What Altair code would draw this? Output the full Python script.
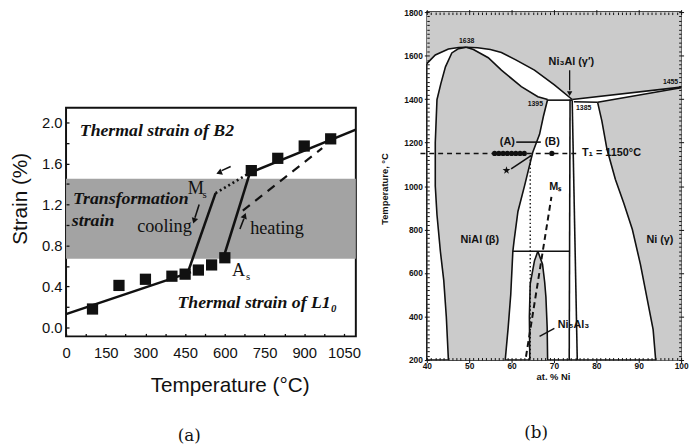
import altair as alt
import pandas as pd

# ================= (a) thermal strain across the B2 <-> L1_0 transformation =================
temp_c = [100, 200, 300, 400, 450, 500, 550, 600, 700, 800, 900, 1000]
strain_pct = [0.18, 0.41, 0.47, 0.50, 0.52, 0.56, 0.61, 0.68, 1.53, 1.65, 1.77, 1.84]

band_strain = [0.67, 1.45]  # transformation-strain band

# solid fits: L1_0 expansion, cooling jump, heating jump, B2 expansion
fit_id = ["L10", "L10", "cool", "cool", "heat", "heat", "B2", "B2"]
fit_temp = [0, 472, 462, 565, 596, 695, 695, 1095]
fit_strain = [0.13, 0.54, 0.55, 1.31, 0.69, 1.51, 1.51, 1.93]

ms_link_temp = [565, 695]        # dotted Ms link
ms_link_strain = [1.31, 1.51]
b2_ext_temp = [668, 968]         # dashed B2 extrapolation
b2_ext_strain = [1.14, 1.75]

arrow_id = ["cool", "cool", "heat", "heat", "back", "back"]
arrow_temp = [503, 487, 657, 672, 622, 588]
arrow_strain = [1.20, 1.07, 0.96, 1.06, 1.57, 1.53]
head_temp = [484, 675, 578]
head_strain = [1.04, 1.09, 1.51]
head_angle = [197, 21, 248]

bold_notes = ["Thermal strain of B2", "Transformation", "strain", "Thermal strain of L1₀"]
bold_temp = [52, 26, 22, 421]
bold_strain = [1.913, 1.25, 1.038, 0.24]
plain_notes = ["cooling", "heating", "M", "A"]
plain_temp = [372, 797, 490, 652]
plain_strain = [0.99, 0.97, 1.36, 0.557]
sub_notes = ["s", "s"]
sub_temp = [524, 688]
sub_strain = [1.29, 0.49]

a_ticks_x = [0, 75, 150, 225, 300, 375, 450, 525, 600, 675, 750, 825, 900, 975, 1050]
a_ticks_y = [0.0, 0.2, 0.4, 0.6, 0.8, 1.0, 1.2, 1.4, 1.6, 1.8, 2.0]

# ================= (b) Ni-Al phase diagram =================
liquid_region = [(40, 1800), (40, 1563), (42, 1603), (45.1, 1630), (47.5, 1637), (49.3, 1638),
                 (52, 1636), (55, 1628), (57.6, 1614), (61, 1580), (65.4, 1533), (70.1, 1465),
                 (74.3, 1398), (100, 1455), (100, 1800)]
beta_region = [(45.1, 200), (44.6, 400), (44.0, 566), (43.2, 700), (42.4, 868), (42.0, 1000),
               (42.0, 1200), (42.4, 1397), (43.3, 1470), (44.4, 1548), (45.9, 1612), (47.5, 1632),
               (49.3, 1638), (51, 1628), (54.5, 1590), (57.6, 1533), (62.3, 1457), (66.2, 1411),
               (68.5, 1398), (67.5, 1320), (66.6, 1238), (65, 1155), (63.1, 1004), (61.5, 883),
               (60.6, 750), (60.3, 700), (59.8, 500), (59.2, 350), (58.5, 200)]
ni5al3_region = [(64.3, 200), (64.2, 400), (64.4, 550), (65.4, 656), (66.2, 700), (67.3, 641),
                 (67.8, 560), (68.1, 490), (68.4, 350), (68.5, 200)]
gamma_region = [(80.3, 1385), (100, 1452), (100, 200), (94, 200), (93.4, 340), (92, 480),
                (90.4, 640), (88.5, 800), (86.5, 920), (84.5, 1030), (82.5, 1170), (81.3, 1300)]

phase_lines = {
    "liq_left": [(40, 1563), (42, 1603), (45.1, 1630), (47.5, 1637), (49.3, 1638)],
    "beta_left": [(49.3, 1638), (47.5, 1632), (45.9, 1612), (44.4, 1548), (43.3, 1470), (42.4, 1397),
                  (42.0, 1200), (42.0, 1000), (42.4, 868), (43.2, 700), (44.0, 566), (44.6, 400), (45.1, 200)],
    "liq_right": [(49.3, 1638), (52, 1636), (55, 1628), (57.6, 1614), (61, 1580), (65.4, 1533),
                  (70.1, 1465), (74.3, 1398)],
    "sol_beta": [(49.3, 1638), (51, 1628), (54.5, 1590), (57.6, 1533), (62.3, 1457), (66.2, 1411), (68.5, 1398)],
    "peritectic": [(68.5, 1395), (74.3, 1395)],
    "beta_right": [(68.5, 1398), (67.5, 1320), (66.6, 1238), (65, 1155), (63.1, 1004), (61.5, 883),
                   (60.6, 750), (60.3, 700), (59.8, 500), (59.2, 350), (58.5, 200)],
    "iso_700": [(60.3, 700), (73.6, 700)],
    "ni3al_left": [(73.8, 1398), (73.6, 200)],
    "ni3al_right": [(74.3, 1395), (75.5, 200)],
    "liq_ni": [(74.3, 1398), (100, 1455)],
    "eutectic": [(74.7, 1388), (80.3, 1385)],
    "sol_gamma": [(80.3, 1385), (100, 1452)],
    "solvus_gamma": [(80.3, 1385), (81.3, 1300), (82.5, 1170), (84.5, 1030), (86.5, 920), (88.5, 800),
                     (90.4, 640), (92, 480), (93.4, 340), (94, 200)],
    "ni5_left": [(64.3, 200), (64.2, 400), (64.4, 550), (65.4, 656), (66.2, 700)],
    "ni5_right": [(66.2, 700), (67.3, 641), (67.8, 560), (68.1, 490), (68.4, 350), (68.5, 200)],
}

t1_line = [(38.5, 1150), (75.5, 1150)]
alloy_ni = [56, 57, 58, 59, 60, 61, 62, 63, 69.5]
alloy_t = [1150] * 9
ab_link = [(61.1, 1202), (66.9, 1202)]
star_pt = [(58.8, 1072)]
star_link = [(59.9, 1079), (64.6, 1140)]
alloy_a_drop = [(64.4, 1140), (64.4, 200)]
ms_line = [(69.4, 950), (63.4, 215)]
ni3al_arrow = [(73.7, 1533), (73.7, 1440)]
ni3al_head = [(73.7, 1425)]
ni5al3_leader = [(66.6, 309), (70.1, 346)]

b_labels = ["Ni₃Al (γ′)", "(A)", "(B)", "Mₛ", "NiAl (β)", "Ni (γ)", "Ni₅Al₃"]
b_label_ni = [74.1, 59, 69.6, 70.3, 52.5, 95, 74.6]
b_label_t = [1568, 1202, 1202, 995, 750, 750, 362]
t1_label = "T₁ = 1150°C"
t1_label_pos = (76.6, 1150)
invariant_labels = ["1638", "1395", "1385", "1455"]
invariant_ni = [49.4, 65.6, 77.0, 97.5]
invariant_t = [1668, 1378, 1357, 1478]

b_ticks_x = list(range(40, 101))
b_ticks_y = list(range(200, 1801, 20))

SANS = "Liberation Sans"
SERIF = "Liberation Serif"
INK = "#111111"

# ---------------- panel (a) ----------------
ax_a_x = alt.Axis(values=a_ticks_x, format="d",
                  labelExpr="datum.value % 150 === 0 ? datum.label : ''",
                  labelOverlap=False, labelFlush=False, labelFont=SANS, labelFontSize=15,
                  labelColor=INK, labelPadding=9, tickSize=3, tickWidth=1.3, tickColor=INK,
                  offset=-3, domain=False, grid=False, zindex=1,
                  title="Temperature (°C)", titleFont=SANS, titleFontSize=21,
                  titleFontWeight="normal", titleColor=INK, titleX=166, titleY=53,
                  titleAlign="center", titleBaseline="middle")
ax_a_y = alt.Axis(values=a_ticks_y, format=".1f",
                  labelExpr="indexof(['0.0','0.4','0.8','1.2','1.6','2.0'], datum.label) >= 0 ? datum.label : ''",
                  labelOverlap=False, labelFlush=False, labelFont=SANS, labelFontSize=15,
                  labelColor=INK, labelPadding=4, tickSize=3, tickWidth=1.3, tickColor=INK,
                  offset=-3, domain=False, grid=False, zindex=1,
                  title="Strain (%)", titleFont=SANS, titleFontSize=21, titleFontWeight="normal",
                  titleColor=INK, titleAngle=270, titleX=-49, titleY=92,
                  titleAlign="center", titleBaseline="middle")

xa = alt.X("T:Q", scale=alt.Scale(domain=[0, 1095], nice=False, zero=False), axis=ax_a_x)
ya = alt.Y("s:Q", scale=alt.Scale(domain=[-0.087, 2.144], nice=False, zero=False), axis=ax_a_y)


def frame_ts(ts, ss, **extra):
    d = {"T": ts, "s": ss}
    d.update(extra)
    return pd.DataFrame(d)


band = alt.Chart(pd.DataFrame({"s": [band_strain[0]], "s2": [band_strain[1]]})).mark_rect(
    color="#a3a3a3").encode(y=ya, y2="s2:Q")

fits = alt.Chart(frame_ts(fit_temp, fit_strain, seg=fit_id)).mark_line(
    color=INK, strokeWidth=2.6).encode(x=xa, y=ya, detail="seg:N")
ms_link = alt.Chart(frame_ts(ms_link_temp, ms_link_strain)).mark_line(
    color=INK, strokeWidth=2.6, strokeDash=[2, 3]).encode(x=xa, y=ya)
b2_ext = alt.Chart(frame_ts(b2_ext_temp, b2_ext_strain)).mark_line(
    color=INK, strokeWidth=2.2, strokeDash=[9, 7]).encode(x=xa, y=ya)
arrows = alt.Chart(frame_ts(arrow_temp, arrow_strain, seg=arrow_id)).mark_line(
    color=INK, strokeWidth=1.6).encode(x=xa, y=ya, detail="seg:N")
heads = alt.Chart(frame_ts(head_temp, head_strain, a=head_angle)).mark_point(
    shape="triangle-up", filled=True, color=INK, size=45, opacity=1).encode(
    x=xa, y=ya, angle=alt.Angle("a:Q", scale=None))
squares = alt.Chart(frame_ts(temp_c, strain_pct)).mark_square(
    color=INK, size=130, opacity=1).encode(x=xa, y=ya)

bold_txt = alt.Chart(frame_ts(bold_temp, bold_strain, t=bold_notes)).mark_text(
    font=SERIF, fontSize=18, fontWeight="bold", fontStyle="italic", align="left",
    baseline="middle", color=INK).encode(x=xa, y=ya, text="t:N")
plain_txt = alt.Chart(frame_ts(plain_temp, plain_strain, t=plain_notes)).mark_text(
    font=SERIF, fontSize=18.5, align="center", baseline="middle", color=INK).encode(
    x=xa, y=ya, text="t:N")
sub_txt = alt.Chart(frame_ts(sub_temp, sub_strain, t=sub_notes)).mark_text(
    font=SERIF, fontSize=11, align="center", baseline="middle", color=INK).encode(
    x=xa, y=ya, text="t:N")

panel_a = alt.layer(band, fits, ms_link, b2_ext, arrows, heads, squares,
                    bold_txt, plain_txt, sub_txt).properties(
    width=294, height=232,
    view=alt.ViewBackground(stroke=INK, strokeWidth=2),
    title=alt.TitleParams("(a)", orient="bottom", frame="group", anchor="middle", dx=-22,
                          offset=33, font="DejaVu Serif", fontSize=17,
                          fontWeight="normal", color=INK))

spacer = alt.Chart(pd.DataFrame({"v": [0]})).mark_point(opacity=0, size=1).encode(
    x=alt.X("v:Q", axis=None, scale=alt.Scale(domain=[-1, 1])),
    y=alt.Y("v:Q", axis=None, scale=alt.Scale(domain=[-1, 1]))).properties(
    width=294, height=96, view=alt.ViewBackground(stroke=None))

# ---------------- panel (b) ----------------
def bx_axis(orient, show):
    return alt.Axis(orient=orient, values=b_ticks_x, format="d",
                    labelExpr="datum.value % 10 === 0 ? datum.label : ''" if show else "''",
                    labels=show, labelOverlap=False, labelFlush=False, labelFont=SANS,
                    labelFontWeight="bold", labelFontSize=8.5, labelColor=INK, labelPadding=-1,
                    tickColor=INK, tickWidth=1,
                    tickSize={"condition": {"test": "datum.value % 10 === 0", "value": 5}, "value": 2.5},
                    offset=-2.5, domain=False, grid=False, zindex=1,
                    title="at. % Ni" if show else None, titleFont=SANS, titleFontSize=9.5,
                    titleFontWeight="bold", titleColor=INK, titleX=128, titleY=19,
                    titleBaseline="middle")


def by_axis(orient, show):
    return alt.Axis(orient=orient, values=b_ticks_y, format="d",
                    labelExpr="datum.value % 200 === 0 ? datum.label : ''" if show else "''",
                    labels=show, labelOverlap=False, labelFlush=False, labelFont=SANS,
                    labelFontWeight="bold", labelFontSize=8.5, labelColor=INK, labelPadding=2,
                    tickColor=INK, tickWidth=1,
                    tickSize={"condition": {"test": "datum.value % 200 === 0", "value": 5}, "value": 2.5},
                    offset=-2.5, domain=False, grid=False, zindex=1,
                    title="Temperature, °C" if show else None, titleFont=SANS, titleFontSize=9.5,
                    titleFontWeight="bold", titleColor=INK, titleAngle=270, titleX=-45,
                    titleY=179, titleAlign="center", titleBaseline="middle")


bscale_x = alt.Scale(domain=[40, 100], nice=False, zero=False)
bscale_y = alt.Scale(domain=[200, 1800], nice=False, zero=False)
xb = alt.X("ni:Q", scale=bscale_x, axis=None)
yb = alt.Y("t:Q", scale=bscale_y, axis=None)


def pts(pairs, **extra):
    d = {"ni": [p[0] for p in pairs], "t": [p[1] for p in pairs], "i": list(range(len(pairs)))}
    d.update(extra)
    return pd.DataFrame(d)


regions = pd.concat([pts(liquid_region, reg="L"), pts(beta_region, reg="beta"),
                     pts(ni5al3_region, reg="ni5al3"), pts(gamma_region, reg="gamma")])
fills = alt.Chart(regions).mark_line(fill="#cbcbcb", stroke="#cbcbcb", strokeWidth=0.5).encode(
    x=alt.X("ni:Q", scale=bscale_x, axis=bx_axis("bottom", True)),
    y=alt.Y("t:Q", scale=bscale_y, axis=by_axis("left", True)),
    detail="reg:N", order="i:Q")

curves = pd.concat([pts(v, c=k) for k, v in phase_lines.items()])
bounds = alt.Chart(curves).mark_line(color=INK, strokeWidth=1.6).encode(
    x=alt.X("ni:Q", scale=bscale_x, axis=bx_axis("top", False)),
    y=alt.Y("t:Q", scale=bscale_y, axis=by_axis("right", False)),
    detail="c:N", order="i:Q")

t1 = alt.Chart(pts(t1_line)).mark_line(color=INK, strokeWidth=1.5, strokeDash=[5, 4]).encode(
    x=xb, y=yb, order="i:Q")
ab = alt.Chart(pts(ab_link)).mark_line(color=INK, strokeWidth=1.6).encode(x=xb, y=yb)
slink = alt.Chart(pts(star_link)).mark_line(color=INK, strokeWidth=1.6).encode(x=xb, y=yb)
drop = alt.Chart(pts(alloy_a_drop)).mark_line(color=INK, strokeWidth=1.4,
                                              strokeDash=[1.5, 2.5]).encode(x=xb, y=yb)
ms_b = alt.Chart(pts(ms_line)).mark_line(color=INK, strokeWidth=2, strokeDash=[6, 4]).encode(
    x=xb, y=yb)
arr = alt.Chart(pts(ni3al_arrow)).mark_line(color=INK, strokeWidth=1.3).encode(x=xb, y=yb)
arr_head = alt.Chart(pts(ni3al_head)).mark_point(shape="triangle-down", filled=True, color=INK,
                                                 size=30, opacity=1).encode(x=xb, y=yb)
lead = alt.Chart(pts(ni5al3_leader)).mark_line(color=INK, strokeWidth=1.4).encode(x=xb, y=yb)
dots = alt.Chart(pd.DataFrame({"ni": alloy_ni, "t": alloy_t})).mark_circle(
    color=INK, size=28, opacity=1).encode(x=xb, y=yb)
star = alt.Chart(pts(star_pt)).mark_point(
    shape="M0,-1L0.2245,-0.309L0.9511,-0.309L0.3633,0.118L0.5878,0.809L0,0.382L-0.5878,0.809L-0.3633,0.118L-0.9511,-0.309L-0.2245,-0.309Z",
    filled=True, color=INK, size=70, opacity=1).encode(x=xb, y=yb)

b_txt = alt.Chart(pd.DataFrame({"ni": b_label_ni, "t": b_label_t, "s": b_labels})).mark_text(
    font=SANS, fontWeight="bold", fontSize=11, color=INK, align="center", baseline="middle").encode(
    x=xb, y=yb, text="s:N")
t1_txt = alt.Chart(pd.DataFrame({"ni": [t1_label_pos[0]], "t": [t1_label_pos[1]], "s": [t1_label]})).mark_text(
    font=SANS, fontWeight="bold", fontSize=11, color=INK, align="left", baseline="middle").encode(
    x=xb, y=yb, text="s:N")
inv_txt = alt.Chart(pd.DataFrame({"ni": invariant_ni, "t": invariant_t, "s": invariant_labels})).mark_text(
    font=SANS, fontWeight="bold", fontSize=7, color=INK, align="center", baseline="middle").encode(
    x=xb, y=yb, text="s:N")

panel_b = alt.layer(fills, bounds, t1, ab, slink, drop, ms_b, arr, arr_head, lead, dots, star,
                    b_txt, t1_txt, inv_txt).resolve_axis(x="independent", y="independent").properties(
    width=258, height=353,
    view=alt.ViewBackground(stroke=INK, strokeWidth=1.5),
    title=alt.TitleParams("(b)", orient="bottom", frame="group", anchor="middle", dx=-18,
                          offset=45, font="DejaVu Serif", fontSize=17,
                          fontWeight="normal", color=INK))

chart = alt.hconcat(
    alt.vconcat(spacer, panel_a, spacing=0),
    panel_b,
    spacing=16,
).properties(
    padding={"left": 9, "top": 4, "right": 0, "bottom": 0},
    background="white",
).configure_view(stroke=None)

chart.save("out.html", embed_options={"renderer": "svg", "actions": False})
